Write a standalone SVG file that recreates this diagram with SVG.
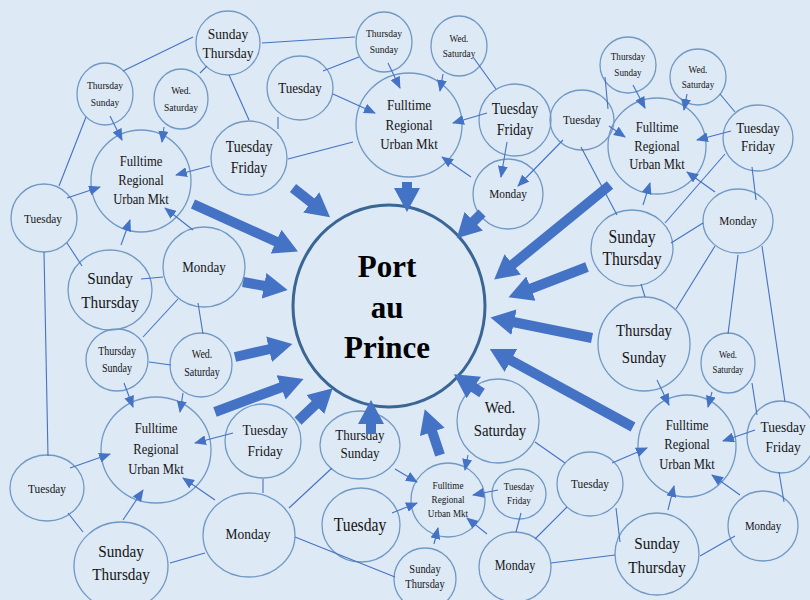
<svg xmlns="http://www.w3.org/2000/svg" width="810" height="600" viewBox="0 0 810 600">
<defs>
<style>
.bg{fill:#dde9f5}
.nd ellipse{fill:none;stroke:#7199c4;stroke-width:1.3}
.t{font-family:"Liberation Serif","Times New Roman",serif;fill:#151515;text-anchor:middle;transform-box:fill-box;transform-origin:center;transform:scaleX(0.87)}
.ln{stroke:#4472c4;stroke-width:1.1;fill:none}
.ar{stroke:#4472c4;stroke-width:1.1;fill:none;marker-end:url(#sm)}
.bg-ar{stroke:#4472c4;stroke-width:10;fill:none;marker-end:url(#big)}
.pap{fill:none;stroke:#3a6694;stroke-width:3}
.pt{font-family:"Liberation Serif","Times New Roman",serif;font-weight:bold;font-size:31px;fill:#000;text-anchor:middle}
</style>
<marker id="sm" viewBox="0 0 12 10" markerUnits="userSpaceOnUse" markerWidth="12" markerHeight="10" refX="11" refY="5" orient="auto"><path d="M0,0 L12,5 L0,10 z" fill="#4472c4"/></marker>
<marker id="big" viewBox="0 0 26 26" markerUnits="userSpaceOnUse" markerWidth="26" markerHeight="26" refX="1" refY="13" orient="auto"><path d="M0,0 L24,13 L0,26 z" fill="#4472c4"/></marker>
</defs>
<rect class="bg" x="0" y="0" width="810" height="600"/>

<g id="n_pap"><ellipse class="pap" cx="389" cy="306" rx="96" ry="101"/><text class="pt"><tspan x="387" y="277">Port</tspan><tspan x="387" y="318">au</tspan><tspan x="387" y="358">Prince</tspan></text></g>

<g class="nd">
<g id="tl_st"><ellipse cx="228" cy="43" rx="32" ry="32"/><text class="t" font-size="15.5"><tspan x="228" y="39">Sunday</tspan><tspan x="228" y="58">Thursday</tspan></text></g>
<g id="tl_ts"><ellipse cx="105" cy="94" rx="28" ry="31"/><text class="t" font-size="11"><tspan x="105" y="89">Thursday</tspan><tspan x="105" y="106">Sunday</tspan></text></g>
<g id="tl_ws"><ellipse cx="181" cy="99" rx="27" ry="30"/><text class="t" font-size="11"><tspan x="181" y="94">Wed.</tspan><tspan x="181" y="111">Saturday</tspan></text></g>
<g id="tl_fr"><ellipse cx="141" cy="181" rx="50" ry="51"/><text class="t" font-size="14.5"><tspan x="141" y="166">Fulltime</tspan><tspan x="141" y="185">Regional</tspan><tspan x="141" y="204">Urban Mkt</tspan></text></g>
<g id="tl_tf"><ellipse cx="249" cy="158" rx="38" ry="37"/><text class="t" font-size="16"><tspan x="249" y="152">Tuesday</tspan><tspan x="249" y="173">Friday</tspan></text></g>
<g id="l_tu"><ellipse cx="44" cy="218" rx="33" ry="34"/><text class="t" font-size="13"><tspan x="43" y="223">Tuesday</tspan></text></g>
<g id="l_st"><ellipse cx="110" cy="290" rx="42" ry="40"/><text class="t" font-size="17.5"><tspan x="110" y="284">Sunday</tspan><tspan x="110" y="308">Thursday</tspan></text></g>
<g id="l_mo"><ellipse cx="204" cy="267" rx="41" ry="40"/><text class="t" font-size="15"><tspan x="204" y="272">Monday</tspan></text></g>
<g id="l_ts"><ellipse cx="117" cy="360" rx="31" ry="31"/><text class="t" font-size="11.5"><tspan x="117" y="355">Thursday</tspan><tspan x="117" y="372">Sunday</tspan></text></g>
<g id="l_ws"><ellipse cx="201" cy="365" rx="31" ry="32"/><text class="t" font-size="11.5"><tspan x="202" y="358">Wed.</tspan><tspan x="202" y="376">Saturday</tspan></text></g>

<g id="bl_fr"><ellipse cx="156" cy="450" rx="55" ry="53"/><text class="t" font-size="14.5"><tspan x="156" y="433">Fulltime</tspan><tspan x="156" y="454">Regional</tspan><tspan x="156" y="474">Urban Mkt</tspan></text></g>
<g id="bl_tu"><ellipse cx="47" cy="488" rx="37" ry="33"/><text class="t" font-size="13"><tspan x="47" y="493">Tuesday</tspan></text></g>
<g id="bl_st"><ellipse cx="121" cy="566" rx="47" ry="44"/><text class="t" font-size="17.5"><tspan x="121" y="557">Sunday</tspan><tspan x="121" y="580">Thursday</tspan></text></g>
<g id="bl_tf"><ellipse cx="263" cy="441" rx="38" ry="37"/><text class="t" font-size="15.5"><tspan x="265" y="435">Tuesday</tspan><tspan x="265" y="456">Friday</tspan></text></g>
<g id="bl_mo"><ellipse cx="249" cy="535" rx="46" ry="42"/><text class="t" font-size="15.5"><tspan x="248" y="539">Monday</tspan></text></g>

<g id="tm_ts"><ellipse cx="384" cy="42" rx="28" ry="30"/><text class="t" font-size="11"><tspan x="384" y="37">Thursday</tspan><tspan x="384" y="53">Sunday</tspan></text></g>
<g id="tm_ws"><ellipse cx="459" cy="46" rx="28" ry="30"/><text class="t" font-size="10.5"><tspan x="459" y="42">Wed.</tspan><tspan x="459" y="57">Saturday</tspan></text></g>
<g id="tm_tu"><ellipse cx="300" cy="88" rx="33" ry="32"/><text class="t" font-size="15"><tspan x="300" y="93">Tuesday</tspan></text></g>
<g id="tm_fr"><ellipse cx="409" cy="125" rx="53" ry="52"/><text class="t" font-size="15"><tspan x="409" y="110">Fulltime</tspan><tspan x="409" y="130">Regional</tspan><tspan x="409" y="149">Urban Mkt</tspan></text></g>
<g id="tm_tf"><ellipse cx="515" cy="120" rx="36" ry="36"/><text class="t" font-size="16"><tspan x="515" y="114">Tuesday</tspan><tspan x="515" y="135">Friday</tspan></text></g>
<g id="tm_mo"><ellipse cx="508" cy="194" rx="35" ry="35"/><text class="t" font-size="13"><tspan x="508" y="198">Monday</tspan></text></g>

<g id="tr_ts"><ellipse cx="628" cy="65" rx="28" ry="28"/><text class="t" font-size="10.5"><tspan x="628" y="60">Thursday</tspan><tspan x="628" y="76">Sunday</tspan></text></g>
<g id="tr_ws"><ellipse cx="698" cy="77" rx="28" ry="28"/><text class="t" font-size="10.5"><tspan x="698" y="73">Wed.</tspan><tspan x="698" y="88">Saturday</tspan></text></g>
<g id="tr_tu"><ellipse cx="582" cy="120" rx="32" ry="30"/><text class="t" font-size="13"><tspan x="582" y="124">Tuesday</tspan></text></g>
<g id="tr_fr"><ellipse cx="657" cy="146" rx="49" ry="48"/><text class="t" font-size="14.5"><tspan x="657" y="132">Fulltime</tspan><tspan x="657" y="151">Regional</tspan><tspan x="657" y="169">Urban Mkt</tspan></text></g>
<g id="tr_tf"><ellipse cx="758" cy="138" rx="35" ry="33"/><text class="t" font-size="15"><tspan x="758" y="133">Tuesday</tspan><tspan x="758" y="151">Friday</tspan></text></g>
<g id="tr_mo"><ellipse cx="738" cy="221" rx="35" ry="32"/><text class="t" font-size="13"><tspan x="738" y="225">Monday</tspan></text></g>
<g id="tr_st"><ellipse cx="632" cy="248" rx="41" ry="38"/><text class="t" font-size="18"><tspan x="632" y="243">Sunday</tspan><tspan x="632" y="265">Thursday</tspan></text></g>

<g id="r_ts"><ellipse cx="644" cy="344" rx="46" ry="47"/><text class="t" font-size="17"><tspan x="644" y="336">Thursday</tspan><tspan x="644" y="363">Sunday</tspan></text></g>
<g id="r_ws"><ellipse cx="728" cy="363" rx="27" ry="30"/><text class="t" font-size="10"><tspan x="728" y="358">Wed.</tspan><tspan x="728" y="373">Saturday</tspan></text></g>
<g id="br_fr"><ellipse cx="687" cy="446" rx="49" ry="51"/><text class="t" font-size="14.5"><tspan x="687" y="430">Fulltime</tspan><tspan x="687" y="449">Regional</tspan><tspan x="687" y="469">Urban Mkt</tspan></text></g>
<g id="br_tf"><ellipse cx="781" cy="437" rx="34" ry="36"/><text class="t" font-size="15.5"><tspan x="783" y="432">Tuesday</tspan><tspan x="783" y="452">Friday</tspan></text></g>
<g id="br_tu"><ellipse cx="590" cy="484" rx="33" ry="32"/><text class="t" font-size="13"><tspan x="590" y="488">Tuesday</tspan></text></g>
<g id="br_mo"><ellipse cx="763" cy="526" rx="35" ry="35"/><text class="t" font-size="12.5"><tspan x="763" y="530">Monday</tspan></text></g>
<g id="br_st"><ellipse cx="657" cy="554" rx="42" ry="41"/><text class="t" font-size="17.5"><tspan x="657" y="549">Sunday</tspan><tspan x="657" y="573">Thursday</tspan></text></g>

<g id="bc_ws"><ellipse cx="498" cy="421" rx="41" ry="42"/><text class="t" font-size="17"><tspan x="500" y="413">Wed.</tspan><tspan x="500" y="436">Saturday</tspan></text></g>
<g id="bc_ts"><ellipse cx="360" cy="445" rx="40" ry="34"/><text class="t" font-size="15"><tspan x="360" y="440">Thursday</tspan><tspan x="360" y="458">Sunday</tspan></text></g>
<g id="bc_fr"><ellipse cx="448" cy="500" rx="37" ry="37"/><text class="t" font-size="10.5"><tspan x="448" y="489">Fulltime</tspan><tspan x="448" y="503">Regional</tspan><tspan x="448" y="517">Urban Mkt</tspan></text></g>
<g id="bc_tf"><ellipse cx="519" cy="494" rx="27" ry="25"/><text class="t" font-size="10.5"><tspan x="519" y="490">Tuesday</tspan><tspan x="519" y="504">Friday</tspan></text></g>
<g id="bc_tu"><ellipse cx="361" cy="525" rx="39" ry="37"/><text class="t" font-size="18"><tspan x="360" y="531">Tuesday</tspan></text></g>
<g id="bc_st"><ellipse cx="425" cy="579" rx="31" ry="31"/><text class="t" font-size="12"><tspan x="425" y="573">Sunday</tspan><tspan x="425" y="588">Thursday</tspan></text></g>
<g id="bc_mo"><ellipse cx="515" cy="567" rx="36" ry="35"/><text class="t" font-size="14"><tspan x="515" y="570">Monday</tspan></text></g>
</g>

<g id="connectors">
<line class="ar" x1="110" y1="116" x2="122" y2="140"/>
<line class="ar" x1="164" y1="127" x2="162" y2="142"/>
<line class="ar" x1="210" y1="166" x2="176" y2="175"/>
<line class="ar" x1="67" y1="198" x2="100" y2="187"/>
<line class="ar" x1="193" y1="230" x2="165" y2="208"/>
<line class="ar" x1="121" y1="245" x2="130" y2="220"/>
<line class="ar" x1="333" y1="94" x2="375" y2="113"/>
<line class="ar" x1="388" y1="63" x2="400" y2="88"/>
<line class="ar" x1="443" y1="74" x2="440" y2="91"/>
<line class="ar" x1="487" y1="113" x2="453" y2="123"/>
<line class="ar" x1="471" y1="177" x2="442" y2="157"/>
<line class="ar" x1="507" y1="142" x2="501" y2="177"/>
<line class="ar" x1="563" y1="140" x2="518" y2="186"/>
<line class="ar" x1="633" y1="85" x2="645" y2="108"/>
<line class="ar" x1="687" y1="94" x2="684" y2="110"/>
<line class="ar" x1="609" y1="126" x2="625" y2="137"/>
<line class="ar" x1="731" y1="131" x2="697" y2="140"/>
<line class="ar" x1="715" y1="192" x2="687" y2="172"/>
<line class="ar" x1="643" y1="205" x2="650" y2="183"/>
<line class="ar" x1="657" y1="380" x2="669" y2="405"/>
<line class="ar" x1="712" y1="392" x2="708" y2="407"/>
<line class="ar" x1="755" y1="430" x2="723" y2="441"/>
<line class="ar" x1="612" y1="463" x2="647" y2="448"/>
<line class="ar" x1="740" y1="495" x2="712" y2="475"/>
<line class="ar" x1="668" y1="510" x2="674" y2="486"/>
<line class="ar" x1="395" y1="469" x2="417" y2="482"/>
<line class="ar" x1="392" y1="513" x2="417" y2="503"/>
<line class="ar" x1="434" y1="544" x2="438" y2="528"/>
<line class="ar" x1="487" y1="534" x2="467" y2="518"/>
<line class="ar" x1="498" y1="490" x2="473" y2="495"/>
<line class="ar" x1="468" y1="455" x2="465" y2="470"/>
<line class="ar" x1="215" y1="500" x2="183" y2="478"/>
<line class="ar" x1="123" y1="520" x2="143" y2="490"/>
<line class="ar" x1="70" y1="468" x2="110" y2="454"/>
<line class="ar" x1="233" y1="433" x2="195" y2="443"/>
<line class="ar" x1="124" y1="383" x2="133" y2="407"/>
<line class="ar" x1="183" y1="393" x2="180" y2="412"/>

<line class="ln" x1="123" y1="71" x2="193" y2="37"/>
<line class="ln" x1="200" y1="73" x2="207" y2="66"/>
<line class="ln" x1="229" y1="75" x2="249" y2="120"/>
<line class="ln" x1="86" y1="117" x2="59" y2="186"/>
<line class="ln" x1="262" y1="43" x2="355" y2="37"/>
<line class="ln" x1="288" y1="159" x2="353" y2="142"/>
<line class="ln" x1="323" y1="71" x2="359" y2="57"/>
<line class="ln" x1="278" y1="117" x2="278" y2="129"/>
<line class="ln" x1="473" y1="57" x2="496" y2="89"/>
<line class="ln" x1="605" y1="77" x2="608" y2="109"/>
<line class="ln" x1="720" y1="94" x2="735" y2="112"/>
<line class="ln" x1="581" y1="147" x2="617" y2="215"/>
<line class="ln" x1="725" y1="154" x2="665" y2="223"/>
<line class="ln" x1="752" y1="167" x2="756" y2="200"/>
<line class="ln" x1="703" y1="223" x2="671" y2="243"/>
<line class="ln" x1="715" y1="246" x2="676" y2="309"/>
<line class="ln" x1="738" y1="255" x2="728" y2="334"/>
<line class="ln" x1="762" y1="246" x2="785" y2="402"/>
<line class="ln" x1="641" y1="284" x2="645" y2="297"/>
<line class="ln" x1="752" y1="383" x2="757" y2="415"/>
<line class="ln" x1="779" y1="472" x2="784" y2="502"/>
<line class="ln" x1="735" y1="536" x2="700" y2="556"/>
<line class="ln" x1="616" y1="508" x2="620" y2="542"/>
<line class="ln" x1="551" y1="563" x2="615" y2="555"/>
<line class="ln" x1="567" y1="507" x2="535" y2="539"/>
<line class="ln" x1="535" y1="442" x2="565" y2="463"/>
<line class="ln" x1="521" y1="513" x2="516" y2="532"/>
<line class="ln" x1="332" y1="468" x2="289" y2="508"/>
<line class="ln" x1="295" y1="537" x2="395" y2="577"/>
<line class="ln" x1="263" y1="479" x2="263" y2="493"/>
<line class="ln" x1="170" y1="563" x2="205" y2="553"/>
<line class="ln" x1="68" y1="513" x2="83" y2="532"/>
<line class="ln" x1="44" y1="252" x2="48" y2="456"/>
<line class="ln" x1="67" y1="243" x2="82" y2="266"/>
<line class="ln" x1="141" y1="279" x2="163" y2="277"/>
<line class="ln" x1="178" y1="299" x2="143" y2="337"/>
<line class="ln" x1="198" y1="303" x2="203" y2="334"/>
<line class="ln" x1="149" y1="362" x2="171" y2="365"/>

<line class="bg-ar" x1="193" y1="204" x2="277" y2="242"/>
<line class="bg-ar" x1="293" y1="188" x2="312" y2="203"/>
<line class="bg-ar" x1="243" y1="282" x2="265" y2="286"/>
<line class="bg-ar" x1="235" y1="357" x2="270" y2="349"/>
<line class="bg-ar" x1="215" y1="412" x2="282" y2="387"/>
<line class="bg-ar" x1="298" y1="421" x2="316" y2="404"/>
<line class="bg-ar" x1="371" y1="434" x2="371" y2="423"/>
<line class="bg-ar" x1="440" y1="455" x2="432" y2="431"/>
<line class="bg-ar" x1="482" y1="393" x2="473" y2="387"/>
<line class="bg-ar" x1="633" y1="427" x2="510" y2="360"/>
<line class="bg-ar" x1="592" y1="338" x2="513" y2="322"/>
<line class="bg-ar" x1="587" y1="267" x2="530" y2="289"/>
<line class="bg-ar" x1="610" y1="185" x2="512" y2="265"/>
<line class="bg-ar" x1="482" y1="213" x2="473" y2="222"/>
<line class="bg-ar" x1="407" y1="182" x2="407" y2="189"/>
</g>
</svg>
